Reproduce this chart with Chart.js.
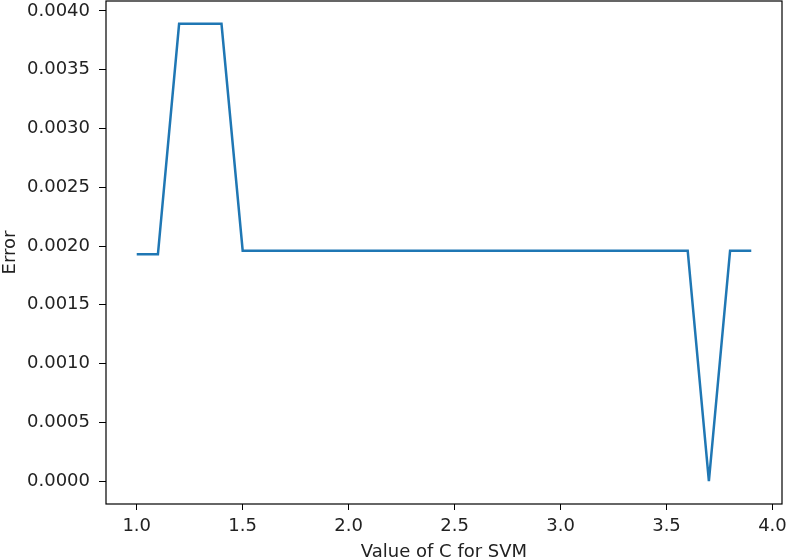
<!DOCTYPE html>
<html>
<head>
<meta charset="utf-8">
<script src="https://cdn.jsdelivr.net/npm/chart.js@4"></script>
<style>
  html, body { margin: 0; padding: 0; background: #fff; }
  #wrap { width: 786px; height: 560px; }
</style>
</head>
<body>
<div id="wrap"><canvas id="chart" width="786" height="560"></canvas></div>
<script>
// values of C tried for the SVM
const cValues = [1.0, 1.1, 1.2, 1.3, 1.4, 1.5, 1.6, 1.7, 1.8, 1.9,
                 2.0, 2.1, 2.2, 2.3, 2.4, 2.5, 2.6, 2.7, 2.8, 2.9,
                 3.0, 3.1, 3.2, 3.3, 3.4, 3.5, 3.6, 3.7, 3.8, 3.9];
// error for each C
const errors = [0.00193, 0.00193, 0.00389, 0.00389, 0.00389, 0.00196, 0.00196, 0.00196, 0.00196, 0.00196,
                0.00196, 0.00196, 0.00196, 0.00196, 0.00196, 0.00196, 0.00196, 0.00196, 0.00196, 0.00196,
                0.00196, 0.00196, 0.00196, 0.00196, 0.00196, 0.00196, 0.00196, 0.0, 0.00196, 0.00196];
const xTicks = [1.0, 1.5, 2.0, 2.5, 3.0, 3.5, 4.0];
const yTicks = [0.0, 0.0005, 0.0010, 0.0015, 0.0020, 0.0025, 0.0030, 0.0035, 0.0040];

const points = cValues.map((c, i) => ({ x: c, y: errors[i] }));

// matplotlib-like box around the plot area
const frame = {
  id: 'frame',
  afterDraw(chart) {
    const a = chart.chartArea, ctx = chart.ctx;
    ctx.save();
    ctx.strokeStyle = '#000';
    ctx.lineWidth = 1.2;
    ctx.strokeRect(a.left, a.top, a.right - a.left, a.bottom - a.top);
    ctx.restore();
  }
};

const font = { family: 'DejaVu Sans', size: 18 };

new Chart(document.getElementById('chart'), {
  type: 'line',
  data: {
    datasets: [{
      data: points,
      borderColor: '#1f77b4',
      borderWidth: 2.5,
      pointRadius: 0,
      fill: false,
      tension: 0
    }]
  },
  options: {
    responsive: false,
    animation: false,
    layout: { padding: { top: 1, right: 4, left: 0, bottom: 0 } },
    plugins: { legend: { display: false }, tooltip: { enabled: false } },
    scales: {
      x: {
        type: 'linear',
        min: 0.855,
        max: 4.045,
        afterBuildTicks: s => { s.ticks = xTicks.map(v => ({ value: v })); },
        afterFit: s => { s.height = 56; s.paddingLeft = 0; s.paddingRight = 0; },
        ticks: { color: '#222', font: font, padding: 6, maxRotation: 0,
                 callback: v => Number(v).toFixed(1) },
        grid: { display: true, drawOnChartArea: false, drawTicks: true, tickLength: 6, color: '#000' },
        border: { display: false },
        title: { display: true, text: 'Value of C for SVM', color: '#222', font: font, padding: { top: 0, bottom: -3 } }
      },
      y: {
        min: -0.000194,
        max: 0.004084,
        afterBuildTicks: s => { s.ticks = yTicks.map(v => ({ value: v })); },
        afterFit: s => { s.width = 106; s.paddingTop = 0; s.paddingBottom = 0; },
        ticks: { color: '#222', font: font, padding: 9,
                 callback: v => Number(v).toFixed(4) },
        grid: { display: true, drawOnChartArea: false, drawTicks: true, tickLength: 7, color: '#000' },
        border: { display: false },
        title: { display: true, text: 'Error', color: '#222', font: font, padding: { top: 0, bottom: 0 } }
      }
    }
  },
  plugins: [frame]
});
</script>
</body>
</html>
